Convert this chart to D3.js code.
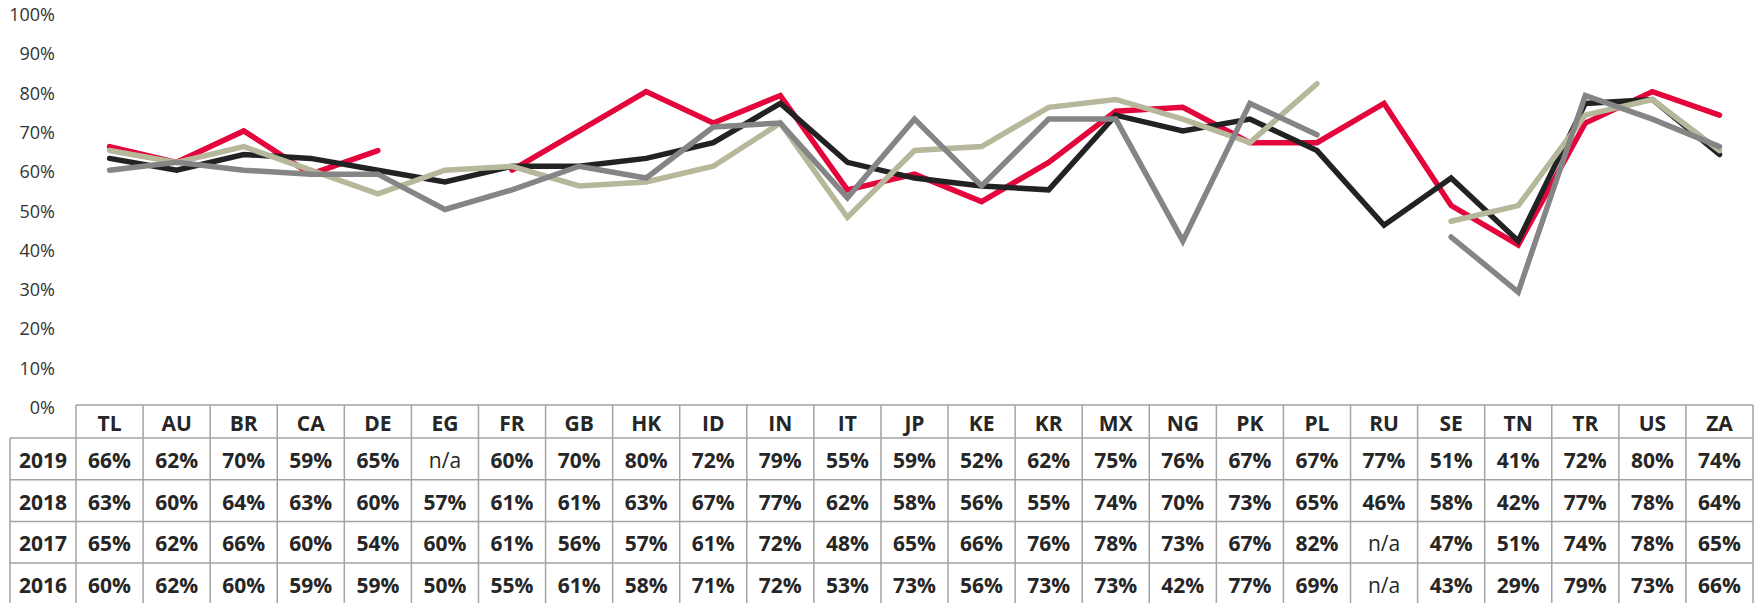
<!DOCTYPE html>
<html lang="en">
<head>
<meta charset="UTF-8" />
<title>chart</title>
<style>
  body { margin: 0; background: #fff; }
  svg { display: block; }
</style>
</head>
<body>
<div id="wrapper"></div>
<script src="https://d3js.org/d3.v7.min.js"></script>
<script>
// categories (country codes) along the x axis
var countries = ["TL","AU","BR","CA","DE","EG","FR","GB","HK","ID","IN","IT","JP","KE","KR","MX","NG","PK","PL","RU","SE","TN","TR","US","ZA"];

// values in percent, null = n/a
var v2019 = [66,62,70,59,65,null,60,70,80,72,79,55,59,52,62,75,76,67,67,77,51,41,72,80,74];
var v2018 = [63,60,64,63,60,57,61,61,63,67,77,62,58,56,55,74,70,73,65,46,58,42,77,78,64];
var v2017 = [65,62,66,60,54,60,61,56,57,61,72,48,65,66,76,78,73,67,82,null,47,51,74,78,65];
var v2016 = [60,62,60,59,59,50,55,61,58,71,72,53,73,56,73,73,42,77,69,null,43,29,79,73,66];

var years = ["2019","2018","2017","2016"];
var yTicks = [0,10,20,30,40,50,60,70,80,90,100];

var series = [
  {year: "2019", values: v2019, color: "#e4053c"},
  {year: "2018", values: v2018, color: "#222222"},
  {year: "2017", values: v2017, color: "#b7b79b"},
  {year: "2016", values: v2016, color: "#858585"}
];

var W = 1759, H = 603;
var tableLeft = 10, plotLeft = 76, plotRight = 1753;
var yTop = 13, yBottom = 406;
var headTop = 405, headH = 33, rowH = 41.7;

var svg = d3.select("#wrapper").append("svg")
    .attr("width", W)
    .attr("height", H);

var x = d3.scaleBand()
    .domain(countries)
    .range([plotLeft, plotRight]);

var y = d3.scaleLinear()
    .domain([0, 100])
    .range([yBottom, yTop]);

// y axis labels only (no axis line, no grid)
svg.append("g")
  .selectAll("text")
  .data(yTicks)
  .enter().append("text")
    .attr("x", 55)
    .attr("y", function(d) { return y(d) + 1; })
    .attr("text-anchor", "end")
    .attr("dominant-baseline", "central")
    .style("font-family", "'Open Sans', sans-serif")
    .style("font-size", "18px")
    .style("fill", "#333333")
    .text(function(d) { return d + "%"; });

// lines
var line = d3.line()
    .defined(function(d) { return d != null; })
    .x(function(d, i) { return x(countries[i]) + x.bandwidth() / 2; })
    .y(function(d) { return y(d); });

svg.append("g")
  .selectAll("path")
  .data(series)
  .enter().append("path")
    .attr("d", function(s) { return line(s.values); })
    .attr("fill", "none")
    .attr("stroke", function(s) { return s.color; })
    .attr("stroke-width", 5.5)
    .attr("stroke-linejoin", "miter")
    .attr("stroke-linecap", "round");

// data table
var table = svg.append("g");
var gridColor = "#a3a3a3";
var tableBottom = headTop + headH + rowH * years.length;
var txtStyle = function(sel) {
  sel.style("font-family", "'Open Sans', sans-serif")
     .style("font-size", "21px")
     .style("font-weight", "bold")
     .style("fill", "#262626")
     .attr("text-anchor", "middle")
     .attr("dominant-baseline", "central");
};

// horizontal lines
table.append("line")
    .attr("x1", plotLeft).attr("x2", plotRight)
    .attr("y1", headTop).attr("y2", headTop);
d3.range(years.length + 1).forEach(function(r) {
  var yy = headTop + headH + r * rowH;
  table.append("line")
      .attr("x1", tableLeft).attr("x2", plotRight)
      .attr("y1", yy).attr("y2", yy);
});
// vertical lines
table.append("line")
    .attr("x1", tableLeft).attr("x2", tableLeft)
    .attr("y1", headTop + headH).attr("y2", tableBottom);
countries.forEach(function(c) {
  table.append("line")
      .attr("x1", x(c)).attr("x2", x(c))
      .attr("y1", headTop).attr("y2", tableBottom);
});
table.append("line")
    .attr("x1", plotRight).attr("x2", plotRight)
    .attr("y1", headTop).attr("y2", tableBottom);
table.selectAll("line")
    .attr("stroke", gridColor)
    .attr("stroke-width", 1.5);

// header row
table.selectAll("text.head")
  .data(countries)
  .enter().append("text")
    .attr("class", "head")
    .attr("x", function(d) { return x(d) + x.bandwidth() / 2; })
    .attr("y", headTop + headH / 2 + 1)
    .call(txtStyle)
    .text(function(d) { return d; });

// value rows
series.forEach(function(s, r) {
  var cy = headTop + headH + r * rowH + rowH / 2 + 1;
  table.append("text")
      .attr("x", (tableLeft + plotLeft) / 2)
      .attr("y", cy)
      .call(txtStyle)
      .text(s.year);
  table.selectAll("text.r" + r)
    .data(s.values)
    .enter().append("text")
      .attr("class", "r" + r)
      .attr("x", function(d, i) { return x(countries[i]) + x.bandwidth() / 2; })
      .attr("y", cy)
      .call(txtStyle)
      .style("font-weight", function(d) { return d == null ? "normal" : "bold"; })
      .text(function(d) { return d == null ? "n/a" : d + "%"; });
});
</script>
</body>
</html>
